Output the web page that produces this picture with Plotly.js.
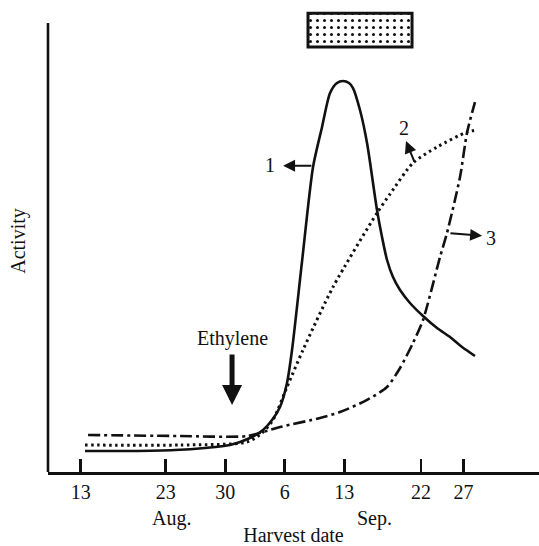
<!DOCTYPE html>
<html>
<head>
<meta charset="utf-8">
<script src="https://cdn.plot.ly/plotly-3.0.1.min.js"></script>
<style>html,body{margin:0;padding:0;background:#fff;}#chart{width:539px;height:546px;}</style>
</head>
<body>
<div id="chart"></div>
<script>
// Harvest day (days counted from 1 Aug) and relative activity (0-100)
const tickDays   = [13, 23, 30, 37, 44, 53, 58];
const tickLabels = ['13', '23', '30', '6', '13', '22', '27'];
const monthDays  = [23.7, 47.6];
const monthLabels = ['Aug.', 'Sep.'];

const curve1Day = [13.51, 18.80, 24.09, 27.62, 30.56, 32.91, 34.44, 35.50, 36.44, 37.26, 37.85, 39.02, 40.32, 41.38, 42.32, 43.14, 43.84, 44.55, 45.02, 45.84, 46.67, 47.84, 48.43, 49.02, 49.72, 50.55, 51.72, 53.25, 54.90, 56.42, 57.84, 59.36];
const curve1Act = [4.68, 4.68, 4.9, 5.35, 6.01, 7.57, 9.35, 11.58, 14.48, 19.82, 27.17, 46.77, 67.93, 76.84, 84.41, 86.64, 87.08, 86.64, 85.52, 80.62, 73.27, 58.35, 52.34, 47.22, 43.43, 40.53, 37.64, 34.74, 32.07, 30.07, 27.84, 25.84];

const curve2Day = [13.51, 24.68, 32.56, 34.32, 35.61, 37.26, 39.14, 42.67, 47.84, 49.37, 52.07, 54.90, 58.42, 59.60];
const curve2Act = [6.01, 6.01, 6.68, 8.69, 11.58, 18.93, 27.17, 41.2, 57.68, 61.9, 68.82, 72.38, 75.72, 76.17];

const curve3Day = [13.87, 24.68, 32.56, 36.44, 41.14, 43.49, 46.67, 49.02, 50.55, 52.07, 53.25, 55.25, 56.07, 57.60, 58.42, 59.36];
const curve3Act = [8.24, 8.02, 8.02, 10.02, 12.03, 13.36, 16.04, 18.93, 23.16, 28.73, 33.85, 47.88, 53.23, 65.70, 75.50, 82.40];

// Period marked by the stippled box at the top
const boxStartDay = 39.73;
const boxEndDay   = 51.96;
const boxLow = 94.65;
const boxHigh = 102.2;

const serif = 'Liberation Serif, Times New Roman, serif';

const traces = [
  {x: curve1Day, y: curve1Act, mode: 'lines', name: '1',
   line: {color: '#111', width: 2.6, shape: 'spline', smoothing: 0.7}},
  {x: curve2Day, y: curve2Act, mode: 'lines', name: '2',
   line: {color: '#111', width: 3, dash: '2.5px,3.5px', shape: 'spline', smoothing: 0.7}},
  {x: curve3Day, y: curve3Act, mode: 'lines', name: '3',
   line: {color: '#111', width: 2.6, dash: '12px,4px,3px,4px', shape: 'spline', smoothing: 0.7}},
  {type: 'bar', x: [(boxStartDay + boxEndDay) / 2], y: [boxHigh - boxLow], base: [boxLow],
   width: [boxEndDay - boxStartDay], hoverinfo: 'skip',
   marker: {color: 'white', line: {color: '#111', width: 3},
            pattern: {shape: '.', fgcolor: '#111', bgcolor: 'white', size: 7, solidity: 0.15}}}
];

const annFont = {family: serif, size: 20, color: '#111'};
const annotations = [
  {x: 35.3, y: 68.4, text: '1', showarrow: false, font: annFont},
  {x: 36.8, y: 68.2, ax: 40.3, ay: 68.2, axref: 'x', ayref: 'y', text: '', showarrow: true,
   arrowhead: 2, arrowsize: 1.2, arrowwidth: 2, arrowcolor: '#111'},
  {x: 51.0, y: 76.6, text: '2', showarrow: false, font: annFont},
  {x: 51.25, y: 73.7, ax: 52.3, ay: 68.8, axref: 'x', ayref: 'y', text: '', showarrow: true,
   arrowhead: 2, arrowsize: 1.2, arrowwidth: 2, arrowcolor: '#111'},
  {x: 61.3, y: 52.1, text: '3', showarrow: false, font: annFont},
  {x: 60.2, y: 52.6, ax: 56.3, ay: 53.2, axref: 'x', ayref: 'y', text: '', showarrow: true,
   arrowhead: 2, arrowsize: 1.2, arrowwidth: 2, arrowcolor: '#111'},
  {x: 30.8, y: 29.8, text: 'Ethylene', showarrow: false, font: annFont},
  {x: 30.8, y: 14.9, ax: 30.8, ay: 26.5, axref: 'x', ayref: 'y', text: '', showarrow: true,
   arrowhead: 2, arrowsize: 0.8, arrowwidth: 5, arrowcolor: '#111'}
];
monthDays.forEach((d, i) => annotations.push({
  x: d, xref: 'x', y: 0, yref: 'paper', yshift: -46, yanchor: 'middle', text: monthLabels[i],
  showarrow: false, font: annFont
}));

const layout = {
  width: 539, height: 546,
  margin: {l: 48, r: 0, t: 10, b: 74},
  paper_bgcolor: 'white', plot_bgcolor: 'white',
  showlegend: false,
  font: {family: serif, size: 20, color: '#111'},
  xaxis: {
    range: [9.162, 66.887], showgrid: false, zeroline: false,
    showline: true, linecolor: '#111', linewidth: 2.6,
    ticks: 'inside', ticklen: 13, tickwidth: 2.6, tickcolor: '#111',
    tickvals: tickDays, ticktext: tickLabels, tickfont: {family: serif, size: 20, color: '#111'},
    title: {text: 'Harvest date', font: {family: serif, size: 20, color: '#111'}, standoff: 30}
  },
  yaxis: {
    range: [0, 102.9], showgrid: false, zeroline: false,
    showline: false, ticks: '', showticklabels: false,
    title: {text: 'Activity', font: {family: serif, size: 20, color: '#111'}, standoff: 16}
  },
  shapes: [
    {type: 'line', xref: 'paper', x0: 0, x1: 0, yref: 'y', y0: 0, y1: 100,
     line: {color: '#111', width: 2.6}}
  ],
  annotations: annotations
};

Plotly.newPlot('chart', traces, layout, {staticPlot: true, displayModeBar: false});
</script>
</body>
</html>
